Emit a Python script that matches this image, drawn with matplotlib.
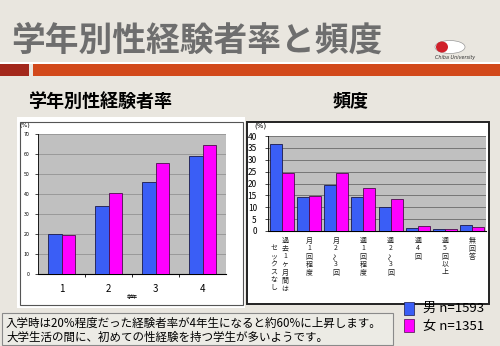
import matplotlib
matplotlib.use("Agg")
import matplotlib.pyplot as plt
from matplotlib.patches import Rectangle, Ellipse
import numpy as np

plt.rcParams['font.family'] = ['Noto Sans CJK JP', 'DejaVu Sans']

# ---------------- data ----------------
title = "学年別性経験者率と頻度"
left_title = "学年別性経験者率"
right_title = "頻度"

grades = ["1", "2", "3", "4"]
grade_male = [20, 34, 46, 59]
grade_female = [19.5, 40.3, 55.3, 64.7]

freq_labels = ["過去1ヶ月間はセックスなし", "月1回程度", "月2〜3回", "週1回程度",
               "週2〜3回", "週4回", "週5回以上", "無回答"]
freq_male = [36.8, 14.5, 19.3, 14.4, 9.9, 1.4, 1.0, 2.6]
freq_female = [24.5, 14.7, 24.5, 17.9, 13.4, 2.1, 1.0, 1.8]

legend_labels = ["男 n=1593", "女 n=1351"]
note_lines = ["入学時は20%程度だった経験者率が4年生になると約60%に上昇します。",
              "大学生活の間に、初めての性経験を持つ学生が多いようです。"]

BLUE = "#3a5ef6"
MAG = "#ff00ff"
PLOTBG = "#c0c0c0"
BG = "#e9e6df"

W, H = 500, 346
fig = plt.figure(figsize=(W / 100, H / 100), dpi=100)
fig.patch.set_facecolor(BG)


def fx(x):
    return x / W


def fy(y):
    return 1 - y / H


def rect(x0, y0, x1, y1, **kw):
    r = Rectangle((fx(x0), fy(y1)), fx(x1) - fx(x0), fy(y0) - fy(y1),
                  transform=fig.transFigure, **kw)
    fig.add_artist(r)
    return r


# ---------- header ----------
fig.text(fx(11), fy(40), title, fontsize=24.3, color="#6e6e6e", fontweight="bold",
         ha="left", va="center")
rect(0, 61.5, 500, 63.5, facecolor="white", edgecolor="none", zorder=-2)
rect(0, 64, 29, 76, facecolor="#a3281c", edgecolor="none", zorder=-2)
rect(33, 64, 500, 76, facecolor="#d2491b", edgecolor="none", zorder=-2)

# logo
fig.add_artist(Ellipse((fx(450), fy(47)), fx(30), fy(0) - fy(13), transform=fig.transFigure,
                       facecolor="white", edgecolor="#999999", lw=0.5, zorder=-1))
fig.add_artist(Ellipse((fx(442), fy(47)), fx(12), fy(0) - fy(11), transform=fig.transFigure,
                       facecolor="#d0202a", edgecolor="none", zorder=-1))
fig.text(fx(455), fy(57), "Chiba University", fontsize=3.5, style="italic",
         family="DejaVu Sans", color="#333333", ha="center", va="center")

# subtitles
fig.text(fx(28), fy(101), left_title, fontsize=13, fontweight="bold", ha="left", va="center")
fig.text(fx(333), fy(101), right_title, fontsize=13, fontweight="bold", ha="left", va="center")

# panels
rect(17, 117, 245, 308, facecolor="white", edgecolor="none", zorder=-3)
rect(20, 122, 243, 305, facecolor="white", edgecolor="#555555", lw=0.8, zorder=-2)
rect(247, 122, 489, 304, facecolor="white", edgecolor="#222222", lw=1.4, zorder=-2)

# ---------- left chart ----------
ax1 = fig.add_axes([fx(38), fy(274), fx(226) - fx(38), fy(134) - fy(274)])
ax1.set_facecolor(PLOTBG)
x = np.arange(len(grades))
bw = 0.285
ax1.bar(x - bw / 2, grade_male, bw, color=BLUE, edgecolor="#1a1a4a", lw=0.6, zorder=3)
ax1.bar(x + bw / 2, grade_female, bw, color=MAG, edgecolor="#4a104a", lw=0.6, zorder=3)
ax1.set_xlim(-0.5, len(grades) - 0.5)
ax1.set_ylim(0, 70)
ax1.set_yticks(np.arange(0, 71, 10))
ax1.yaxis.grid(True, color="#8a8a8a", lw=0.5, zorder=0)
ax1.set_axisbelow(True)
ax1.tick_params(axis="y", labelsize=3.8, length=2, width=0.5, pad=4)
ax1.set_xticks(x)
ax1.set_xticklabels(grades, fontsize=7)
ax1.tick_params(axis="x", length=0, pad=7)
ax1.set_xticks(np.arange(0.5, len(grades) - 0.5, 1), minor=True)
ax1.tick_params(axis="x", which="minor", length=2.5, width=0.6, direction="out")
for s in ["top", "right"]:
    ax1.spines[s].set_visible(False)
ax1.spines["left"].set_linewidth(0.6)
ax1.spines["bottom"].set_linewidth(0.8)
ax1.set_xlabel("学年", fontsize=4, labelpad=1)
fig.text(fx(19), fy(126), "(%)", fontsize=4.5, ha="left", va="center", family="DejaVu Sans")

# ---------- right chart ----------
ax2 = fig.add_axes([fx(268), fy(231), fx(486) - fx(268), fy(136) - fy(231)])
ax2.set_facecolor(PLOTBG)
x2 = np.arange(len(freq_labels))
bw2 = 0.44
ax2.bar(x2 - bw2 / 2, freq_male, bw2, color=BLUE, edgecolor="#1a1a4a", lw=0.6, zorder=3)
ax2.bar(x2 + bw2 / 2, freq_female, bw2, color=MAG, edgecolor="#4a104a", lw=0.6, zorder=3)
ax2.set_xlim(-0.5, len(freq_labels) - 0.5)
ax2.set_ylim(0, 40)
ax2.set_yticks(np.arange(0, 41, 5))
ax2.yaxis.grid(True, color="#6a6a6a", lw=0.6, zorder=0)
ax2.set_axisbelow(True)
ax2.tick_params(axis="y", labelsize=6, length=2, width=0.5, pad=6)
ax2.set_xticks([])
for s in ["top", "right"]:
    ax2.spines[s].set_visible(False)
ax2.spines["left"].set_linewidth(0.6)
ax2.spines["bottom"].set_linewidth(0.8)
fig.text(fx(254), fy(126), "(%)", fontsize=5, ha="left", va="center", family="DejaVu Sans")

# vertical category labels
axis_h_px = 231 - 136
step = 8.0 / axis_h_px
start = -(240.5 - 231) / axis_h_px
trans = ax2.get_xaxis_transform()
cat_w_px = (486 - 268) / len(freq_labels)
for i, lab in enumerate(freq_labels):
    if i == 0:
        cols = [("過去1ヶ月間は", 3.5, 0.0), ("セックスなし", -7.5, 1.0)]
    else:
        cols = [(lab, 0.0, 0.0)]
    for text, dx_px, dy_steps in cols:
        for k, ch in enumerate(text):
            ax2.text(i + dx_px / cat_w_px, start - (k + dy_steps) * step, ch,
                     transform=trans, fontsize=5.0, ha="center", va="center",
                     rotation=90 if ch == "〜" else 0, color="#222222",
                     clip_on=False)

# ---------- legend ----------
rect(404, 302, 414, 315, facecolor=BLUE, edgecolor="#1a1a4a", lw=0.5)
rect(404, 319, 414, 332, facecolor=MAG, edgecolor="#4a104a", lw=0.5)
fig.text(fx(423), fy(308.5), legend_labels[0], fontsize=9.5, ha="left", va="center")
fig.text(fx(423), fy(326.5), legend_labels[1], fontsize=9.5, ha="left", va="center")

# ---------- note box ----------
rect(2, 313, 393, 345, facecolor="#ecebe5", edgecolor="#8a8a8a", lw=0.8)
fig.text(fx(6), fy(323), note_lines[0], fontsize=8.3, ha="left", va="center")
fig.text(fx(6), fy(337), note_lines[1], fontsize=8.3, ha="left", va="center")

fig.savefig("out.png", dpi=100, facecolor=fig.get_facecolor())
